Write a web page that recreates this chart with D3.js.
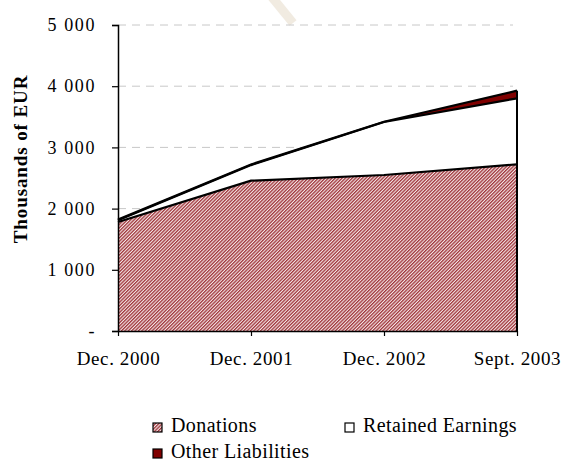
<!DOCTYPE html>
<html>
<head>
<meta charset="utf-8">
<script src="https://cdn.jsdelivr.net/npm/d3@7"></script>
<style>
  body { margin: 0; background: #fff; }
</style>
</head>
<body>
<div id="chart"></div>
<script>
// data (thousands of EUR)
const periods = ["Dec. 2000", "Dec. 2001", "Dec. 2002", "Sept. 2003"];
const donations = [1780, 2456, 2549, 2724];
const retainedEarnings = [30, 255, 866, 1078];
const otherLiabilities = [10, 10, 5, 125];
const yTicks = [0, 1000, 2000, 3000, 4000, 5000];
const seriesNames = ["Donations", "Retained Earnings", "Other Liabilities"];

const serif = "'Liberation Serif', 'Times New Roman', 'DejaVu Serif', serif";
const width = 562, height = 463;
const x0 = 118, x1 = 517, yTop = 25, yBottom = 331;

const svg = d3.select("#chart").append("svg")
  .attr("width", width).attr("height", height);

const defs = svg.append("defs");
const pat = defs.append("pattern")
  .attr("id", "hatch")
  .attr("patternUnits", "userSpaceOnUse")
  .attr("width", 2.4).attr("height", 2.4)
  .attr("patternTransform", "rotate(45)");
pat.append("rect").attr("width", 2.4).attr("height", 2.4).attr("fill", "#f4e6e6");
pat.append("rect").attr("width", 1.3).attr("height", 2.4).attr("fill", "#a0353b");

// faint watermark stroke at top
svg.append("line")
  .attr("x1", 271).attr("y1", -4).attr("x2", 293).attr("y2", 23)
  .attr("stroke", "#f1ebe1").attr("stroke-width", 9);

const rows = periods.map((p, i) => ({
  period: p,
  "Donations": donations[i],
  "Retained Earnings": retainedEarnings[i],
  "Other Liabilities": otherLiabilities[i]
}));

const x = d3.scalePoint().domain(periods).range([x0, x1]);
const y = d3.scaleLinear().domain([0, 5000]).range([yBottom, yTop]);

// gridlines
svg.append("g").selectAll("line")
  .data(yTicks.filter(d => d > 0))
  .join("line")
  .attr("x1", x0).attr("x2", x1 - 4)
  .attr("y1", d => y(d)).attr("y2", d => y(d))
  .attr("stroke", "#c8c8c8")
  .attr("stroke-dasharray", "8,6");

const stack = d3.stack().keys(seriesNames);
const layers = stack(rows);
const fills = { "Donations": "url(#hatch)", "Retained Earnings": "#fff", "Other Liabilities": "#800000" };

const area = d3.area()
  .x(d => x(d.data.period))
  .y0(d => y(d[0]))
  .y1(d => y(d[1]));
const line = d3.line()
  .x(d => x(d.data.period))
  .y(d => y(d[1]));

svg.append("g").selectAll("path")
  .data(layers)
  .join("path")
  .attr("d", area)
  .attr("fill", d => fills[d.key]);

svg.append("g").selectAll("path")
  .data(layers)
  .join("path")
  .attr("d", line)
  .attr("fill", "none")
  .attr("stroke", "#000")
  .attr("stroke-width", 2.2);

// right edge of the stack
const last = rows[rows.length - 1];
svg.append("line")
  .attr("x1", x(last.period)).attr("x2", x(last.period))
  .attr("y1", y(0)).attr("y2", y(layers[layers.length - 1][rows.length - 1][1]))
  .attr("stroke", "#000").attr("stroke-width", 2);

// axes
const fmt = d => d === 0 ? "-" : d3.format(",")(d).replace(/,/g, " ");
const yAxis = svg.append("g")
  .attr("transform", `translate(${x0},0)`)
  .call(d3.axisLeft(y).tickValues(yTicks).tickFormat(fmt).tickSize(6).tickPadding(16));
yAxis.attr("font-family", null).attr("font-size", null);
yAxis.select(".domain").attr("stroke", "#000").attr("stroke-width", 1.5);
yAxis.selectAll(".tick line").attr("stroke", "#000").attr("stroke-width", 1.2);
yAxis.selectAll("text")
  .style("font-family", serif).style("font-size", "18px")
  .style("letter-spacing", "1.6px").attr("fill", "#000");

const xAxis = svg.append("g")
  .attr("transform", `translate(0,${yBottom})`)
  .call(d3.axisBottom(x).tickSize(5).tickPadding(16).tickSizeOuter(0));
xAxis.attr("font-family", null).attr("font-size", null);
xAxis.select(".domain").attr("stroke", "#000").attr("stroke-width", 1.5);
xAxis.selectAll(".tick line").attr("stroke", "#000").attr("stroke-width", 1.2);
xAxis.selectAll("text")
  .style("font-family", serif).style("font-size", "19px")
  .style("letter-spacing", "0.6px").attr("fill", "#000");

// y title
svg.append("text")
  .attr("transform", `translate(27,159) rotate(-90)`)
  .attr("text-anchor", "middle")
  .attr("fill", "#000")
  .style("font-family", serif)
  .style("font-size", "19px").style("font-weight", "bold")
  .style("letter-spacing", "0.9px")
  .text("Thousands of EUR");

// legend
const legendPos = [[153, 432], [345, 432], [153, 458]];
const lg = svg.append("g").selectAll("g")
  .data(seriesNames)
  .join("g")
  .attr("transform", (d, i) => `translate(${legendPos[i][0]},${legendPos[i][1]})`);
lg.append("rect")
  .attr("x", 0).attr("y", -9).attr("width", 9).attr("height", 9)
  .attr("fill", d => fills[d]).attr("stroke", "#000").attr("stroke-width", 1.2);
lg.append("text")
  .attr("x", 18).attr("y", 0)
  .attr("fill", "#000")
  .style("font-family", serif)
  .style("font-size", "20px")
  .style("letter-spacing", "0.4px")
  .text(d => d);
</script>
</body>
</html>
